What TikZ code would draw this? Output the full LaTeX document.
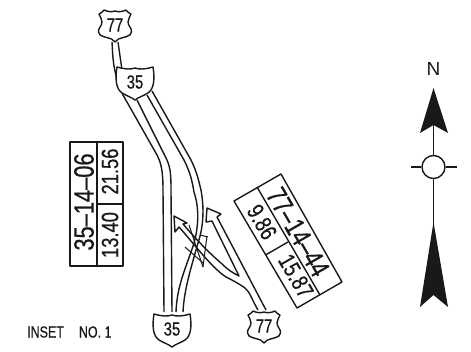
\documentclass[tikz,border=0pt]{standalone}
\usepackage{fontspec}
\setmainfont{Liberation Sans}
\newfontface\cnd[FakeStretch=0.78,FakeBold=0.6]{Liberation Sans}
\tikzset{
  ln/.style={draw=black!90,line width=1.4pt,line join=round},
  box/.style={ln,fill=white},
  lab/.style={inner sep=0pt,text=black!90,font=\cnd},
  bigtxt/.style={lab,font=\cnd\fontsize{28}{28}\selectfont},
  smalltxt/.style={lab,font=\cnd\fontsize{23.5}{23.5}\selectfont},
  shieldtxt/.style={lab,font=\cnd\fontsize{19}{19}\selectfont},
}
\newcommand{\usshield}[4]{%
  \draw[box] (#1-11,#2-15) .. controls (#1-7,#2-13) and (#1-3,#2-13) .. (#1,#2-14) .. controls (#1+3,#2-13) and (#1+7,#2-13) .. (#1+11,#2-15) .. controls (#1+12,#2-13) and (#1+14,#2-12) .. (#1+16,#2-11) .. controls (#1+15,#2-8) and (#1+13,#2-6) .. (#1+13,#2-3) .. controls (#1+13,#2+1) and (#1+17,#2+3) .. (#1+16.5,#2+7) .. controls (#1+16,#2+12) and (#1+8,#2+12) .. (#1+3.5,#2+14) .. controls (#1+2,#2+15) and (#1+1,#2+16) .. (#1,#2+17) .. controls (#1-1,#2+16) and (#1-2,#2+15) .. (#1-3.5,#2+14) .. controls (#1-8,#2+12) and (#1-16,#2+12) .. (#1-16.5,#2+7) .. controls (#1-17,#2+3) and (#1-13,#2+1) .. (#1-13,#2-3) .. controls (#1-13,#2-6) and (#1-15,#2-8) .. (#1-16,#2-11) .. controls (#1-14,#2-12) and (#1-12,#2-13) .. (#1-11,#2-15) -- cycle;
  \node[shieldtxt] (#3) at (#1,#2) {#4};}
\newcommand{\ishield}[4]{%
  \draw[box] (#1-18,#2-16) .. controls (#1-9,#2-13.5) and (#1-5,#2-13.5) .. (#1,#2-15) .. controls (#1+5,#2-13.5) and (#1+9,#2-13.5) .. (#1+18,#2-16) .. controls (#1+20,#2-4) and (#1+19,#2+6) .. (#1+13,#2+10) .. controls (#1+8,#2+13) and (#1+4,#2+14) .. (#1,#2+17) .. controls (#1-4,#2+14) and (#1-8,#2+13) .. (#1-13,#2+10) .. controls (#1-19,#2+6) and (#1-20,#2-4) .. (#1-18,#2-16) -- cycle;
  \node[shieldtxt] (#3) at (#1,#2-1) {#4};}
\begin{document}
\begin{tikzpicture}[x=1pt,y=-1pt]
\useasboundingbox (0,0) rectangle (471,351);
% roads
\draw[ln] (112,42) .. controls (113,60) and (113,72) .. (123,95) -- (157,155) .. controls (161,163) and (163,170) .. (163,190) -- (164,312);
\draw[ln] (118,42) -- (122,70);
\draw[ln] (137,100) -- (166,158) .. controls (170,166) and (171,172) .. (171,190) -- (172,312);
\draw[ln] (147,95) -- (184,160) .. controls (190,172) and (192,180) .. (194,192) .. controls (199,207) and (199,225) .. (194,243) .. controls (186,268) and (177,285) .. (176,312);
\draw[ln] (152,91) -- (191,160) .. controls (197,172) and (199,182) .. (201,190) .. controls (204,207) and (204,225) .. (198,243) .. controls (191,268) and (184,290) .. (183,312);
% ramps
\draw[ln] (258,310) .. controls (252,300) and (250,292) .. (245,288) .. controls (238,283) and (232,280) .. (226,277) .. controls (212,268) and (195,245) .. (179,227) -- (175,232) -- (174,216) -- (187,223) -- (183,224) .. controls (195,238) and (208,252) .. (221,263) .. controls (228,270) and (233,273) .. (239,276) -- (212,221) -- (206,222) -- (207,208) -- (221,214) -- (217,217) -- (266,310);
% crossing lines
\draw[ln,line width=1pt] (189,225) -- (203,267);
\draw[ln,line width=1pt] (207,236) -- (203,267);
\draw[ln,line width=1pt] (185,247) -- (203,263);
\draw[ln,line width=1pt] (200,235) -- (208,237);
% shields
\usshield{115}{25}{us1}{77}
\ishield{135}{83}{i1}{35}
\ishield{172}{330}{i2}{35}
\usshield{264}{326}{us2}{77}
% table left
\draw[box] (70,142) rectangle (123,266);
\draw[ln] (97,142) -- (97,266);
\draw[ln] (97,204) -- (123,204);
\node[bigtxt,rotate=90] (t1) at (84,202) {35–14–06};
\node[smalltxt,rotate=90] (t2) at (110,171.5) {21.56};
\node[smalltxt,rotate=90] (t3) at (110,235) {13.40};
% table right
\draw[box] (281,174) -- (342,282) -- (297,308) -- (234,201) -- cycle;
\draw[ln] (257,187) -- (320,295);
\draw[ln] (265.5,255) -- (288,242);
\node[bigtxt,rotate=-60] (t4) at (298,232) {77–14–44};
\node[smalltxt,rotate=-60] (t5) at (262,222) {9.86};
\node[smalltxt,rotate=-60] (t6) at (296,276) {15.87};
% north arrow
\node[lab,font=\fontsize{19}{19}\selectfont] (n) at (433.5,69) {N};
\node[draw=black!90,line width=1.4pt,circle,minimum size=23pt,inner sep=0pt,fill=white] (c) at (433.5,167) {};
\coordinate (w) at (411,167);
\coordinate (e) at (457,167);
\coordinate (bot) at (433.5,230);
\coordinate (top) at (433.5,100);
\draw[ln] (c) -- (top);
\draw[ln] (c) -- (bot);
\draw[ln] (c) -- (w);
\draw[ln] (c) -- (e);
\fill[black!90] (433.5,88) -- (448,133) -- (433.5,125) -- (420,133) -- cycle;
\fill[black!90] (433.5,222) -- (448,307) -- (433.5,295) -- (420,307) -- cycle;
\node[lab,font=\cnd\fontsize{16}{16}\selectfont,anchor=west] (ins) at (27,332) {INSET\hspace{15pt}NO. 1};
\end{tikzpicture}
\end{document}
